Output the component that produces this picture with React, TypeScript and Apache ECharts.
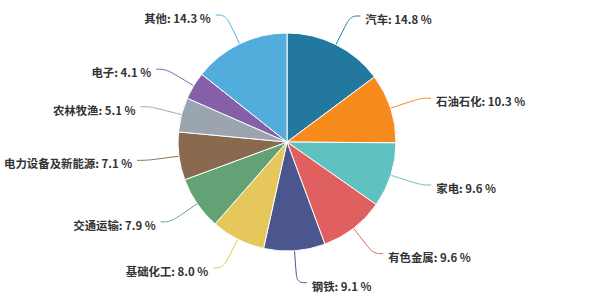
import React, { useEffect, useRef } from "react";
import * as echarts from "echarts";

const categories = ["汽车", "石油石化", "家电", "有色金属", "钢铁", "基础化工", "交通运输", "电力设备及新能源", "农林牧渔", "电子", "其他"];
const values = [14.8, 10.3, 9.6, 9.6, 9.1, 8.0, 7.9, 7.1, 5.1, 4.1, 14.3];
const colors = ["#22789f", "#f68a1d", "#5fc2c1", "#e05f5f", "#4a568d", "#e5c75b", "#62a274", "#8a6a4f", "#9aa5af", "#8560a9", "#52acdc"];

export default function App() {
  const ref = useRef<HTMLDivElement>(null);
  useEffect(() => {
    document.body.style.margin = "0";
    const chart = echarts.init(ref.current!, null, { renderer: "svg" });
    chart.setOption({
      animation: false,
      color: colors,
      series: [
        {
          type: "pie",
          center: [287, 142],
          radius: 109,
          startAngle: 90,
          clockwise: true,
          data: categories.map((n, i) => ({ name: n, value: values[i] })),
          itemStyle: { borderColor: "#fff", borderWidth: 1 },
          label: {
            show: true,
            formatter: (p: any) => `${p.name}: ${p.value.toFixed(1)} %`,
            color: "#333",
            fontWeight: "bold",
            fontSize: 11.4,
            overflow: "none",
            fontFamily: "'Noto Sans CJK SC', 'Noto Sans', sans-serif",
          },
          labelLayout: () => ({ dy: 3 }),
          labelLine: { show: true, smooth: 0.4, length: 32, length2: 10, lineStyle: { width: 1 } },
        },
      ],
    });
    return () => chart.dispose();
  }, []);
  return <div ref={ref} style={{ width: 600, height: 294 }} />;
}
